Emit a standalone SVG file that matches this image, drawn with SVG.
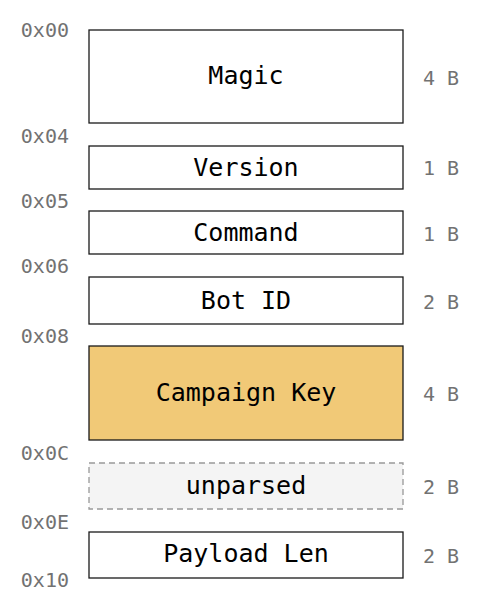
<svg xmlns="http://www.w3.org/2000/svg" width="481" height="609" viewBox="0 0 481 609">
<style>
.box{fill:#ffffff;stroke:#1a1a1a;stroke-width:1.3}
.hl{fill:#f1c977}
.un{fill:#f4f4f4;stroke:#999999;stroke-dasharray:6 4}
.lbl{font-family:"DejaVu Sans Mono",monospace;font-size:25px;fill:#000;text-anchor:middle}
.off{font-family:"DejaVu Sans Mono",monospace;font-size:20px;fill:#727272;text-anchor:end}
.sz{font-family:"DejaVu Sans Mono",monospace;font-size:20px;fill:#727272;text-anchor:start}
</style>
<g id="offsets">
<text class="off" x="69" y="37.3">0x00</text>
<text class="off" x="69" y="142.5">0x04</text>
<text class="off" x="69" y="208">0x05</text>
<text class="off" x="69" y="273">0x06</text>
<text class="off" x="69" y="343">0x08</text>
<text class="off" x="69" y="460">0x0C</text>
<text class="off" x="69" y="529">0x0E</text>
<text class="off" x="69" y="586.7">0x10</text>
</g>
<g id="magic"><rect class="box" x="89" y="30" width="314" height="93"/><text class="lbl" x="246" y="84">Magic</text><text class="sz" x="423" y="85">4 B</text></g>
<g id="version"><rect class="box" x="89" y="146" width="314" height="43"/><text class="lbl" x="246" y="176">Version</text><text class="sz" x="423" y="175">1 B</text></g>
<g id="command"><rect class="box" x="89" y="211" width="314" height="43"/><text class="lbl" x="246" y="241">Command</text><text class="sz" x="423" y="240.7">1 B</text></g>
<g id="botid"><rect class="box" x="89" y="277" width="314" height="47"/><text class="lbl" x="246" y="309">Bot ID</text><text class="sz" x="423" y="308.5">2 B</text></g>
<g id="campaignkey"><rect class="box hl" x="89" y="346" width="314" height="94"/><text class="lbl" x="246" y="400.5">Campaign Key</text><text class="sz" x="423" y="401">4 B</text></g>
<g id="unparsed"><rect class="box un" x="89" y="463" width="314" height="46"/><text class="lbl" x="246" y="493.7">unparsed</text><text class="sz" x="423" y="494">2 B</text></g>
<g id="payloadlen"><rect class="box" x="89" y="532" width="314" height="46"/><text class="lbl" x="246" y="561.5">Payload Len</text><text class="sz" x="423" y="563">2 B</text></g>
<g id="connectors"></g>
</svg>
